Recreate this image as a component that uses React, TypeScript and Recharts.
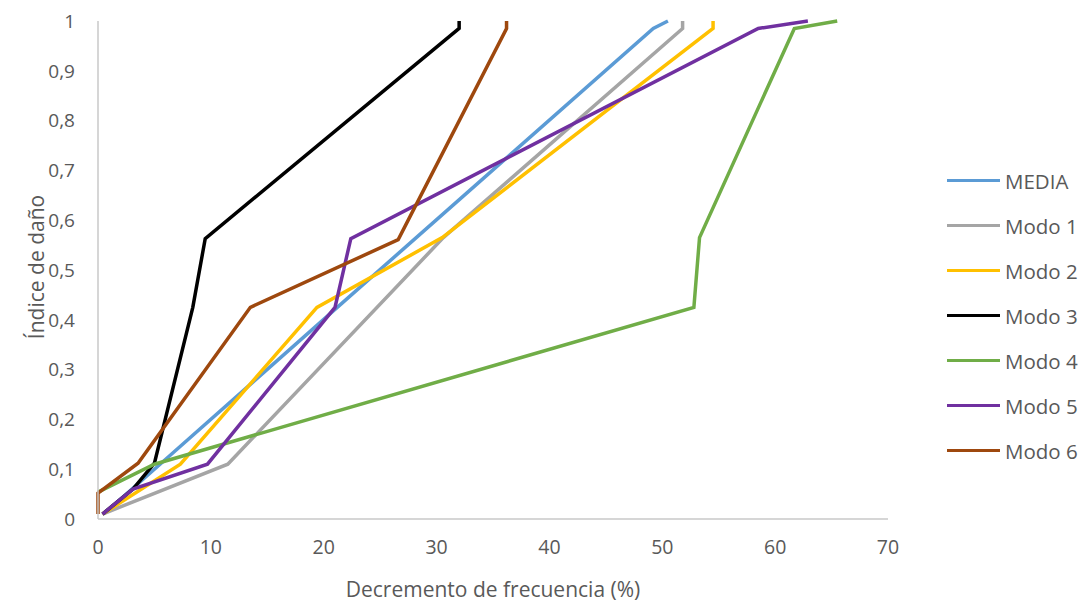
import { Line, LineChart, XAxis, YAxis, Label } from "recharts";

// Decremento de frecuencia (%) vs índice de daño
const mediaX = [0.5, 5.5, 21.2, 28.2, 49.2, 50.5];
const mediaY = [0.01, 0.11, 0.425, 0.565, 0.985, 1];
const modo1X = [0.4, 11.5, 30.6, 51.8, 51.8];
const modo1Y = [0.01, 0.11, 0.565, 0.985, 1];
const modo2X = [0.4, 7.3, 19.4, 30.5, 54.5, 54.5];
const modo2Y = [0.01, 0.11, 0.425, 0.565, 0.985, 1];
const modo3X = [0.4, 3.1, 5.0, 8.4, 9.5, 32.0, 32.0];
const modo3Y = [0.01, 0.06, 0.112, 0.425, 0.563, 0.985, 1];
const modo4X = [0, 5.0, 52.8, 53.3, 61.7, 65.5];
const modo4Y = [0.054, 0.11, 0.425, 0.565, 0.985, 1];
const modo5X = [0.4, 3.1, 9.7, 21.0, 22.4, 58.5, 62.9];
const modo5Y = [0.01, 0.06, 0.11, 0.425, 0.563, 0.985, 1];
const modo6X = [0, 0, 3.55, 13.5, 26.6, 36.2, 36.2];
const modo6Y = [0.01, 0.052, 0.112, 0.425, 0.561, 0.985, 1];

const xTicks = [0, 10, 20, 30, 40, 50, 60, 70];
const yTicks = [0, 0.1, 0.2, 0.3, 0.4, 0.5, 0.6, 0.7, 0.8, 0.9, 1];

const pts = (xs: number[], ys: number[]) => xs.map((x, i) => ({ x, y: ys[i] }));

const series = [
  { name: "MEDIA", color: "#5B9BD5", data: pts(mediaX, mediaY) },
  { name: "Modo 1", color: "#A5A5A5", data: pts(modo1X, modo1Y) },
  { name: "Modo 2", color: "#FFC000", data: pts(modo2X, modo2Y) },
  { name: "Modo 3", color: "#000000", data: pts(modo3X, modo3Y) },
  { name: "Modo 4", color: "#70AD47", data: pts(modo4X, modo4Y) },
  { name: "Modo 5", color: "#7030A0", data: pts(modo5X, modo5Y) },
  { name: "Modo 6", color: "#9E480E", data: pts(modo6X, modo6Y) },
];

const font = "'Open Sans', sans-serif";
const textColor = "#595959";

function LegendBox() {
  return (
    <div
      style={{
        position: "absolute",
        left: 947,
        top: 158,
        fontFamily: font,
        fontSize: 20.5,
        color: textColor,
      }}
    >
      {series.map((s) => (
        <div key={s.name} style={{ display: "flex", alignItems: "center", height: 45 }}>
          <div style={{ width: 53, height: 3, background: s.color, marginRight: 5 }} />
          <span style={{ whiteSpace: "nowrap" }}>{s.name}</span>
        </div>
      ))}
    </div>
  );
}

export default function App() {
  return (
    <div style={{ position: "absolute", left: 0, top: 0, width: 1081, height: 603, background: "#fff" }}>
      <LineChart width={1081} height={603} margin={{ top: 21, right: 193, bottom: 54, left: 38 }}>
        <XAxis
          type="number"
          dataKey="x"
          domain={[0, 70]}
          ticks={xTicks}
          allowDuplicatedCategory={false}
          stroke="#C8C8C8"
          strokeWidth={1.5}
          tickLine={false}
          tickSize={0}
          tickMargin={21}
          tick={{ fill: textColor, fontSize: 19.5, fontFamily: font }}
        >
          <Label
            value="Decremento de frecuencia (%)"
            position="bottom"
            offset={33}
            style={{ fill: textColor, fontSize: 21, fontFamily: font }}
          />
        </XAxis>
        <YAxis
          type="number"
          dataKey="y"
          domain={[0, 1]}
          ticks={yTicks}
          width={60}
          stroke="#C8C8C8"
          strokeWidth={1.5}
          tickLine={false}
          tickSize={0}
          tickMargin={23}
          tickFormatter={(v: number) => String(v).replace(".", ",")}
          tick={{ fill: textColor, fontSize: 19, fontFamily: font }}
        />
        {series.map((s) => (
          <Line
            key={s.name}
            data={s.data}
            dataKey="y"
            name={s.name}
            type="linear"
            stroke={s.color}
            strokeWidth={3.5}
            dot={false}
            isAnimationActive={false}
          />
        ))}
      </LineChart>
      <div
        style={{
          position: "absolute",
          left: 36,
          top: 267,
          transform: "translate(-50%, -50%) rotate(-90deg)",
          whiteSpace: "nowrap",
          fontFamily: font,
          fontSize: 21,
          color: textColor,
        }}
      >
        Índice de daño
      </div>
      <LegendBox />
    </div>
  );
}
